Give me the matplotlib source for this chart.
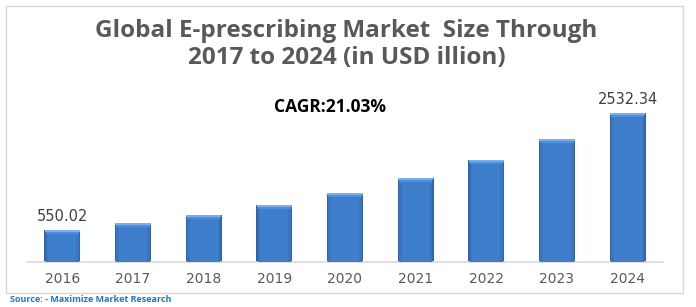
import matplotlib
matplotlib.use("Agg")
import matplotlib.pyplot as plt
from matplotlib.patches import Rectangle

years = ["2016", "2017", "2018", "2019", "2020", "2021", "2022", "2023", "2024"]
values = [550.02, 661, 797, 967, 1175, 1425, 1725, 2091, 2532.34]
labels = {0: "550.02", 8: "2532.34"}

title1 = "Global E-prescribing Market  Size Through"
title2 = "2017 to 2024 (in USD illion)"
cagr = "CAGR:21.03%"
source = "Source: - Maximize Market Research"

W, H = 696, 307
fig = plt.figure(figsize=(W / 100, H / 100), dpi=100)
fig.patch.set_facecolor("white")

# light grey frame around the chart
fig.patches.append(Rectangle((6 / W, 1 - 293 / H), 677 / W, 287 / H,
                             transform=fig.transFigure, fill=False,
                             edgecolor="#d9d9d9", linewidth=1))

ax = fig.add_axes([27 / W, 45 / H, 636 / W, 162 / H])
x = list(range(len(years)))
ppx = 2532.34 / 149.3  # data units per pixel

# bar body: darker edge, lighter middle
ax.bar(x, values, width=0.51, color="#2f65ae", zorder=2)
ax.bar(x, values, width=0.47, color="#3975c1", zorder=3)
ax.bar(x, [v - 2 * ppx for v in values], width=0.40, color="#3e7eca", zorder=4)
# top bevel
ax.bar(x, [4 * ppx] * len(x), bottom=[v - 4 * ppx for v in values], width=0.47,
       color="#4f8fdb", zorder=5)
ax.bar(x, [2 * ppx] * len(x), bottom=[v - 2 * ppx for v in values], width=0.50,
       color="#76b0ef", zorder=6)

ax.set_xlim(-0.5, len(years) - 0.5)
ax.set_ylim(0, 162 * ppx)
for s in ["top", "right", "left"]:
    ax.spines[s].set_visible(False)
ax.spines["bottom"].set_color("#d9d9d9")
ax.spines["bottom"].set_linewidth(1.2)
ax.set_yticks([])
ax.set_xticks(x)
ax.set_xticklabels(years, color="#595959", fontsize=10, family="DejaVu Sans")
ax.tick_params(axis="x", length=0, pad=7)

for i, txt in labels.items():
    ax.text(x[i], values[i] + 6 * ppx, txt, ha="center", va="bottom",
            fontsize=10.5, color="#404040", family="DejaVu Sans")

fig.text(346.5 / W, 1 - 37 / H, title1, ha="center", va="baseline", fontsize=17.5,
         fontweight="bold", color="#595959", family="Open Sans")
fig.text(347 / W, 1 - 64 / H, title2, ha="center", va="baseline", fontsize=17.5,
         fontweight="bold", color="#595959", family="Open Sans")
fig.text(330 / W, 1 - 112.5 / H, cagr, ha="center", va="baseline", fontsize=12.5,
         fontweight="bold", color="black", family="Open Sans")
fig.text(10 / W, 1 - 300 / H, source, ha="left", va="center", fontsize=6.5,
         fontweight="bold", color="#1f77c4", family="Open Sans")

plt.savefig("out.png", dpi=100)
plt.close()
